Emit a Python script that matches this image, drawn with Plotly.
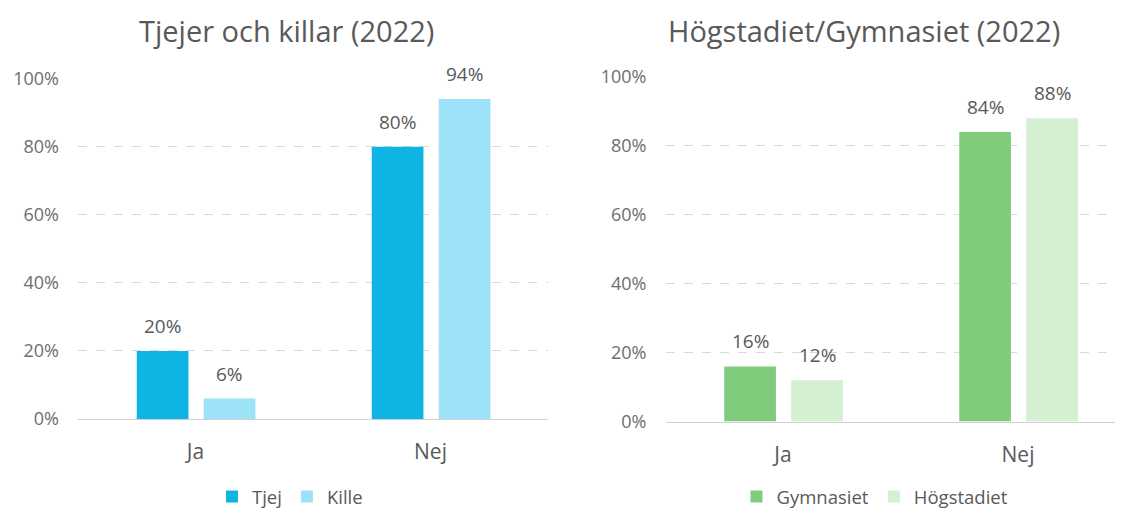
import plotly.graph_objects as go

categories = ["Ja", "Nej"]
tjej = [20, 80]
kille = [6, 94]
gymnasiet = [16, 84]
hogstadiet = [12, 88]
y_ticks = [0, 20, 40, 60, 80, 100]
y_tick_labels = [f"{v}%" for v in y_ticks]

FONT = "Open Sans"
TXT = "#595959"
W, H = 1123, 511
DX, DY = 6, 8  # page body margin offset

def px(x):
    return (x - DX) / W

def py(y):
    return 1 - (y - DY) / H

fig = go.Figure()

BW = 0.22
OFF1, OFF2 = -0.25, 0.035

def add_pair(vals1, vals2, name1, name2, c1, c2, xa, ya, leg):
    fig.add_trace(go.Bar(x=categories, y=vals1, name=name1, marker_color=c1,
                         width=BW, offset=OFF1, xaxis=xa, yaxis=ya, legend=leg,
                         marker_line_width=0))
    fig.add_trace(go.Bar(x=categories, y=vals2, name=name2, marker_color=c2,
                         width=BW, offset=OFF2, xaxis=xa, yaxis=ya, legend=leg,
                         marker_line_width=0))
    for vals, off in ((vals1, OFF1), (vals2, OFF2)):
        for i, v in enumerate(vals):
            fig.add_annotation(x=i + off + BW / 2, y=v, text=f"{v}%",
                               xref=xa, yref=ya, showarrow=False,
                               yanchor="bottom", yshift=10,
                               font=dict(family=FONT, size=19, color=TXT))

add_pair(tjej, kille, "Tjej", "Kille", "#0DB4E4", "#9CE3FA", "x", "y", "legend")
add_pair(gymnasiet, hogstadiet, "Gymnasiet", "Högstadiet", "#80CC7C", "#D4EFD1", "x2", "y2", "legend2")

yax = dict(range=[0, 100], tickmode="array", tickvals=y_ticks, ticktext=y_tick_labels,
           showgrid=True, gridcolor="#d9d9d9", griddash="dash", gridwidth=1, zeroline=False,
           tickfont=dict(family=FONT, size=18, color="#6e6e6e"), ticks="",
           ticklabelstandoff=18, fixedrange=True, automargin=False)
xax = dict(type="category", showline=True, linecolor="#d0d0d0", linewidth=1,
           tickfont=dict(family=FONT, size=21, color=TXT), ticks="",
           ticklabelstandoff=14, showgrid=False, automargin=False)

fig.update_layout(
    width=W, height=H,
    margin=dict(l=0, r=0, t=0, b=0),
    paper_bgcolor="white", plot_bgcolor="white",
    barmode="group",
    font=dict(family=FONT, color=TXT),
    xaxis=dict(xax, domain=[px(76), px(546)], range=[-0.5, 1.5], anchor="y"),
    yaxis=dict(yax, domain=[py(419), py(78.7)], anchor="x"),
    xaxis2=dict(xax, domain=[px(663.5), 1.0], range=[-0.5, -0.5 + (W + DX - 663.5) / 235], anchor="y2"),
    yaxis2=dict(yax, domain=[py(421.5), py(77)], anchor="x2"),
    legend=dict(orientation="h", x=px(288), xanchor="center", y=py(497), yanchor="middle",
                font=dict(family=FONT, size=18.5, color=TXT), itemwidth=30, bgcolor="rgba(0,0,0,0)"),
    legend2=dict(orientation="h", x=px(873), xanchor="center", y=py(497), yanchor="middle",
                 font=dict(family=FONT, size=18.5, color=TXT), itemwidth=30, bgcolor="rgba(0,0,0,0)"),
    showlegend=True,
)

fig.add_annotation(text="Tjejer och killar (2022)", x=px(284), y=py(30), xref="paper", yref="paper",
                   showarrow=False, xanchor="center", yanchor="middle",
                   font=dict(family=FONT, size=29, color=TXT))
fig.add_annotation(text="Högstadiet/Gymnasiet (2022)", x=px(862), y=py(30), xref="paper", yref="paper",
                   showarrow=False, xanchor="center", yanchor="middle",
                   font=dict(family=FONT, size=29, color=TXT))

fig.write_html("out.html", config={"displayModeBar": False})
